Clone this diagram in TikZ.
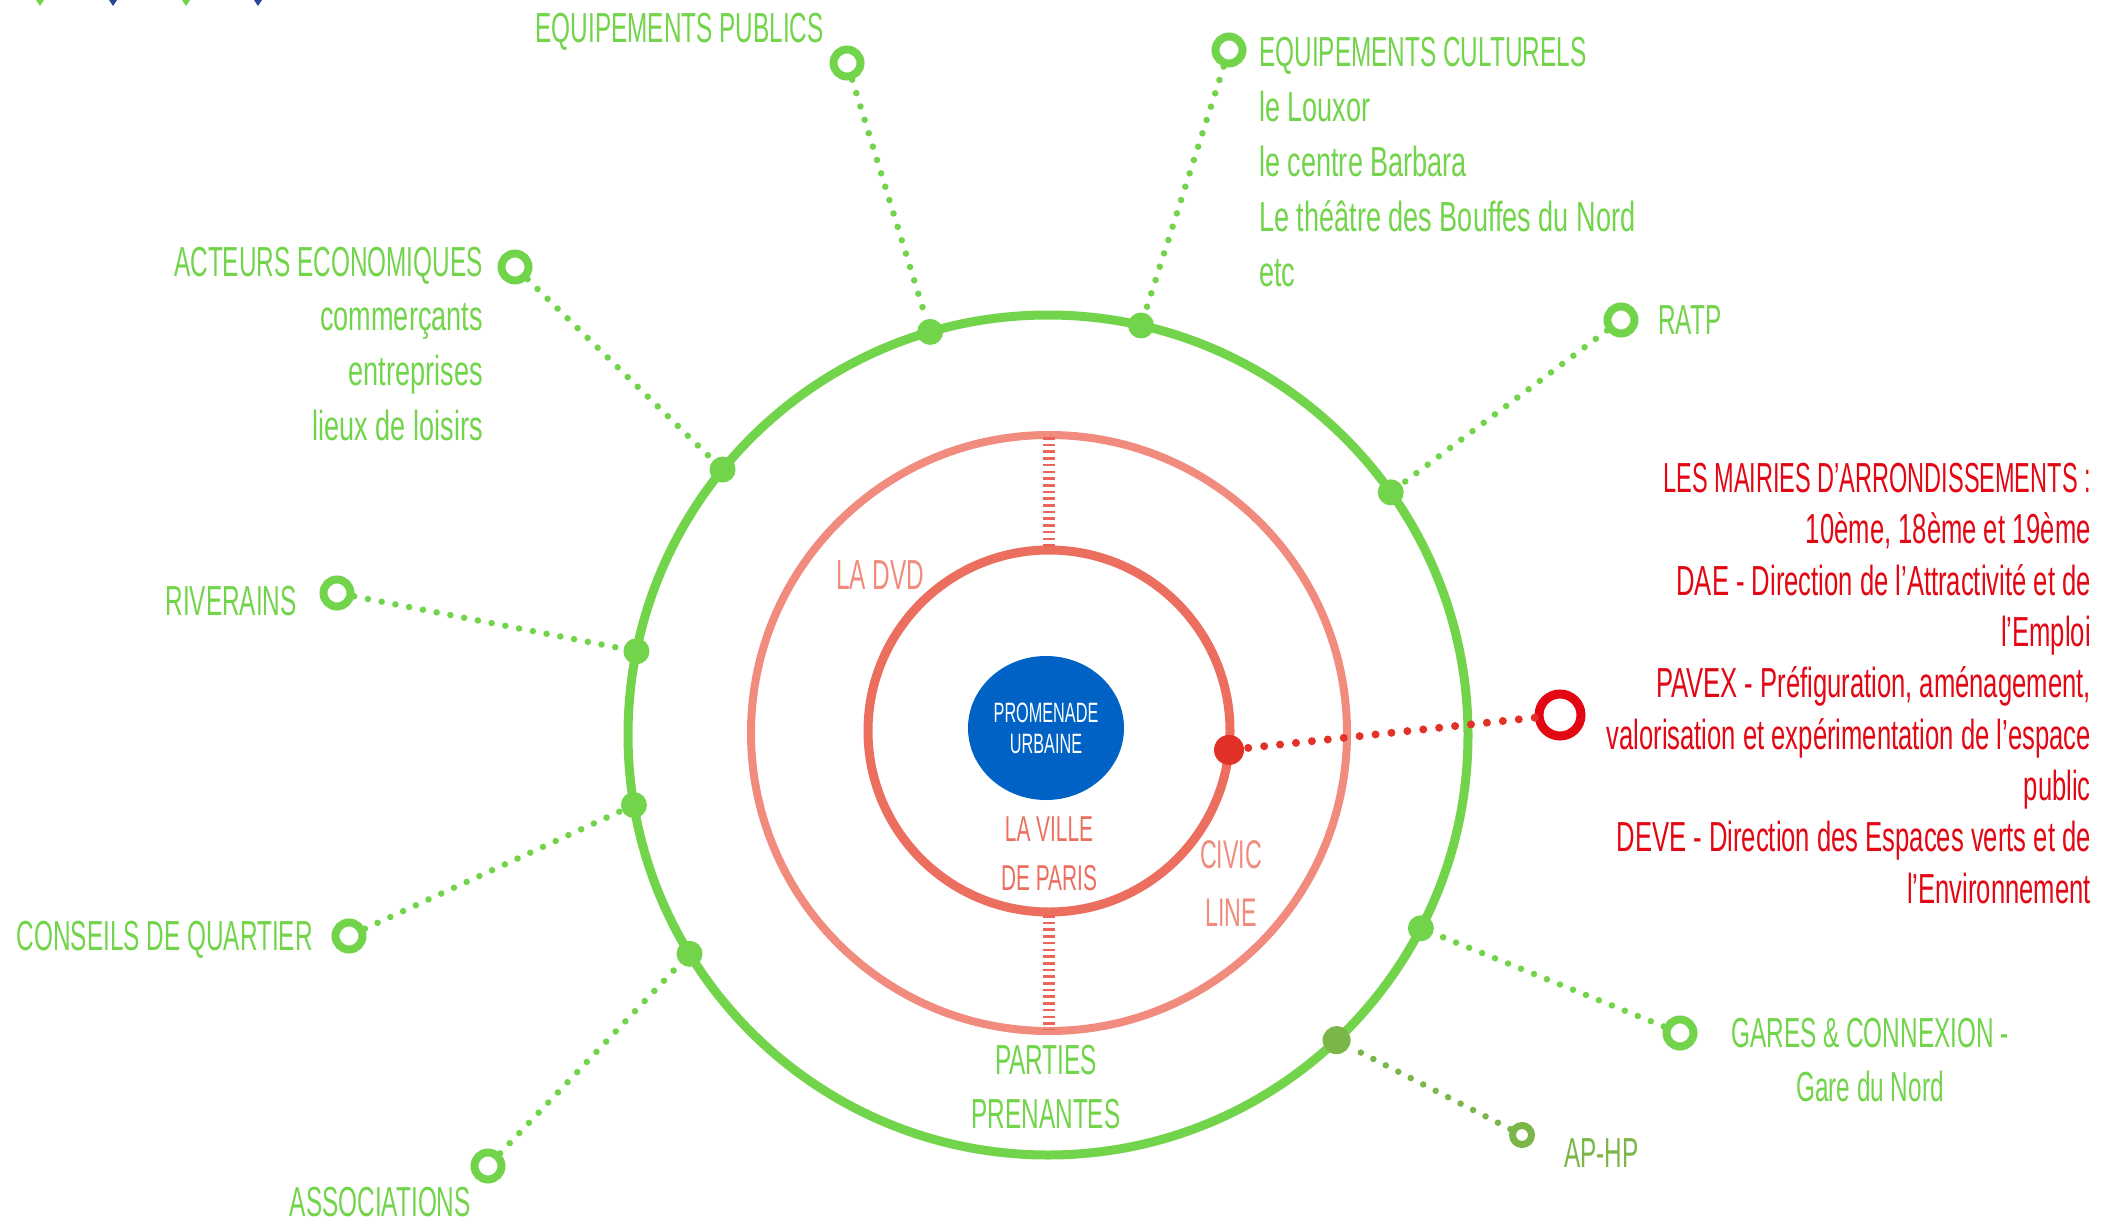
\documentclass[tikz,border=0pt]{standalone}
\usepackage{fontspec}
\setmainfont{Liberation Sans}[FakeStretch=0.58]
\newfontfamily\redfont{Liberation Sans}[FakeStretch=0.61]
\newfontfamily\lcfont{Liberation Sans}[FakeStretch=0.645]
\newfontfamily\capfont{Liberation Sans}[FakeStretch=0.56]
\usetikzlibrary{calc,shapes.geometric}
\definecolor{gr}{RGB}{114,212,74}
\definecolor{grd}{RGB}{122,182,72}
\definecolor{navy}{RGB}{40,70,150}
\definecolor{pinkc}{RGB}{240,139,126}
\definecolor{innerc}{RGB}{236,110,95}
\definecolor{dashc}{RGB}{236,100,90}
\definecolor{reddot}{RGB}{226,50,40}
\definecolor{redt}{RGB}{227,6,19}
\definecolor{bluec}{RGB}{0,98,196}
\begin{document}
\begin{tikzpicture}[x=1pt,y=-1pt,
  ring/.style={circle,draw=gr,line width=8pt,minimum size=27pt,inner sep=0pt},
  dotn/.style={circle,fill=gr,minimum size=26pt,inner sep=0pt},
  gdots/.style={draw=gr,line width=6.5pt,line cap=round,dash pattern=on 0pt off 14pt},
  lbl/.style={inner sep=0pt,text=gr,font=\fontsize{42}{55}\selectfont},
  redlbl/.style={inner sep=0pt,text=redt,font=\redfont\fontsize{42}{51.3}\selectfont},
  midlbl/.style={inner sep=0pt,text=pinkc},
  rails/.style={draw=dashc,line width=12pt,dash pattern=on 2.6pt off 4.1pt}]
\fill[white] (0,0) rectangle (2114,1223);
\useasboundingbox (0,0) rectangle (2114,1223);
% top-left marks
\fill[gr] (36,0) -- (44,0) -- (40,6) -- cycle;
\fill[navy] (109,0) -- (117,0) -- (113,6) -- cycle;
\fill[gr] (182,0) -- (190,0) -- (186,6) -- cycle;
\fill[navy] (254,0) -- (262,0) -- (258,6) -- cycle;
% centres
\coordinate (Cg) at (1048,735);
\coordinate (Cp) at (1049,733);
\coordinate (Ci) at (1049,731);
% circles
\draw[gr,line width=9pt] (Cg) circle[radius=420pt];
\draw[pinkc,line width=8pt] (Cp) circle[radius=298pt];
\draw[innerc,line width=9pt] (Ci) circle[radius=181pt];
% rails
\coordinate (r1a) at (1049,437);
\coordinate (r1b) at (1049,548);
\coordinate (r2a) at (1049,915);
\coordinate (r2b) at (1049,1029);
\draw[rails] (r1a) -- (r1b);
\draw[rails] (r2a) -- (r2b);
% blue centre
\node[ellipse,fill=bluec,minimum width=156pt,minimum height=144pt,inner sep=0pt,
  text=white,align=center,font=\fontsize{28}{31}\selectfont] (pu) at (1046,728) {PROMENADE\\URBAINE};
% dots on green circle
\node[dotn] (epD) at ($(Cg)+(-106.3:420)$) {};
\node[dotn] (ecD) at ($(Cg)+(-77.2:420)$) {};
\node[dotn] (ratpD) at ($(Cg)+(-35.3:420)$) {};
\node[dotn] (actD) at ($(Cg)+(-140.8:420)$) {};
\node[dotn] (rivD) at ($(Cg)+(-168.5:420)$) {};
\node[dotn] (consD) at ($(Cg)+(170.4:420)$) {};
\node[dotn] (assD) at ($(Cg)+(148.6:420)$) {};
\node[dotn] (garD) at ($(Cg)+(27.4:420)$) {};
\node[dotn,fill=grd,minimum size=28pt] (aphpD) at ($(Cg)+(46.6:420)$) {};
\node[ellipse,fill=gr,minimum width=6pt,minimum height=12pt,inner sep=0pt] (blip) at ($(Cg)+(-10.2:421)$) {};
\node[circle,fill=reddot,minimum size=30pt,inner sep=0pt] (redD) at ($(Ci)+(6:181)$) {};
% rings
\node[ring] (epR) at (847,63) {};
\node[ring] (ecR) at (1229,50) {};
\node[ring] (ratpR) at (1621,320) {};
\node[ring] (actR) at (515,267) {};
\node[ring] (rivR) at (337,593) {};
\node[ring] (consR) at (349,936) {};
\node[ring] (assR) at (488,1166) {};
\node[ring] (garR) at (1680,1033) {};
\node[ring,draw=grd,line width=7pt,minimum size=19pt] (aphpR) at (1522,1135) {};
\node[ring,draw=redt,line width=9pt,minimum size=42pt] (redR) at (1560,715) {};
% dotted connectors
\draw[gdots] (epR) -- (epD);
\draw[gdots] (ecR) -- (ecD);
\draw[gdots] (ratpR) -- (ratpD);
\draw[gdots] (actR) -- (actD);
\draw[gdots] (rivR) -- (rivD);
\draw[gdots] (consR) -- (consD);
\draw[gdots] (assR) -- (assD);
\draw[gdots] (garR) -- (garD);
\draw[gdots,draw=grd] (aphpR) -- (aphpD);
\draw[gdots,draw=reddot,line width=8pt,dash pattern=on 0pt off 16pt] (redR) -- (redD);
% labels (base anchor of a multi-line node = baseline of its last line)
\node[lbl,anchor=base east] (epT) at (824,43) {EQUIPEMENTS PUBLICS};
\node[lbl,anchor=base west,align=left] (ecT) at (1259,286) {EQUIPEMENTS CULTURELS\\{\lcfont le Louxor}\\{\lcfont le centre Barbara}\\{\lcfont Le théâtre des Bouffes du Nord}\\{\lcfont etc}};
\node[lbl,anchor=base west] (ratpT) at (1658,334) {RATP};
\node[lbl,anchor=base east,align=right,font=\fontsize{42}{54.6}\selectfont] (actT) at (483,440) {ACTEURS ECONOMIQUES\\{\lcfont commerçants}\\{\lcfont entreprises}\\{\lcfont lieux de loisirs}};
\node[lbl,anchor=base east] (rivT) at (297,615) {RIVERAINS};
\node[lbl,anchor=base east] (consT) at (313,950) {CONSEILS DE QUARTIER};
\node[lbl,anchor=base east] (assT) at (471,1216) {ASSOCIATIONS};
\node[lbl,anchor=base,align=center,font=\fontsize{42}{54}\selectfont] (ppT) at (1046,1128) {PARTIES\\PRENANTES};
\node[lbl,anchor=base,align=center,font=\fontsize{42}{54}\selectfont] (garT) at (1870,1101) {GARES \& CONNEXION -\\Gare du Nord};
\node[lbl,text=grd,anchor=base west] (aphpT) at (1564,1167) {AP-HP};
\node[redlbl,anchor=base east,align=right] (redT) at (2091,903) {{\capfont LES MAIRIES D’ARRONDISSEMENTS :}\\10ème, 18ème et 19ème\\DAE - Direction de l’Attractivité et de\\l’Emploi\\PAVEX - Préfiguration, aménagement,\\valorisation et expérimentation de l’espace\\public\\DEVE - Direction des Espaces verts et de\\l’Environnement};
\node[midlbl,anchor=base west,font=\fontsize{42}{50}\selectfont] (dvdT) at (836,589) {LA DVD};
\node[midlbl,text=innerc,anchor=base,align=center,font=\fontsize{36}{49}\selectfont] (vpT) at (1049,890) {LA VILLE\\DE PARIS};
\node[midlbl,anchor=base,align=center,font=\fontsize{40}{58}\selectfont] (clT) at (1231,926) {CIVIC\\LINE};
\end{tikzpicture}
\end{document}
